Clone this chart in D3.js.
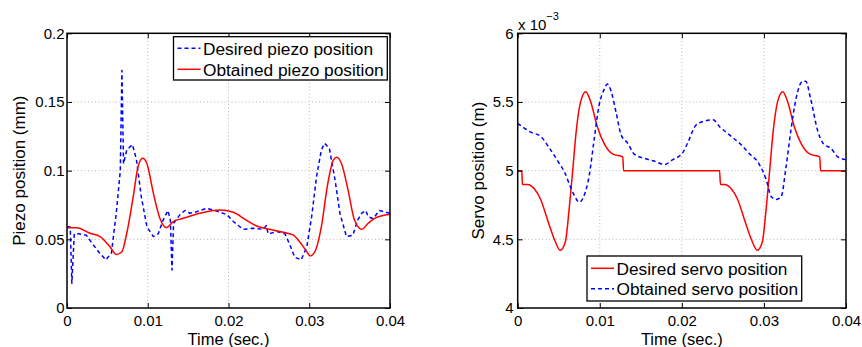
<!DOCTYPE html>
<html><head><meta charset="utf-8">
<script src="https://cdn.jsdelivr.net/npm/d3@7"></script>
<style>
body{margin:0;background:#fff;}
text{font-family:"Liberation Sans",Arial,Helvetica,sans-serif;fill:#000;}
</style></head>
<body><svg id="c" width="862" height="347"></svg>
<script>
// ---- Data ----
const timeTicks = [0, 0.01, 0.02, 0.03, 0.04];
const timeTickLabels = ["0", "0.01", "0.02", "0.03", "0.04"];
const piezoTicks = [0, 0.05, 0.1, 0.15, 0.2];
const piezoTickLabels = ["0", "0.05", "0.1", "0.15", "0.2"];
const servoTicks = [4, 4.5, 5, 5.5, 6];
const servoTickLabels = ["4", "4.5", "5", "5.5", "6"];

// Left: desired piezo position (mm)
const desiredPiezo = [
[0,0.0592],[0.0004,0.059],[0.0006,0.018],[0.0009,0.054],[0.0014,0.054],[0.0024,0.053],
[0.003,0.048],[0.0039,0.041],[0.0048,0.035],[0.0055,0.040],[0.0061,0.069],[0.0066,0.100],
[0.0068,0.173],[0.007,0.105],[0.0074,0.115],[0.0081,0.119],[0.0086,0.108],[0.0092,0.081],
[0.0099,0.059],[0.0107,0.052],[0.0113,0.054],[0.0119,0.064],[0.0125,0.071],[0.0128,0.064],
[0.013,0.0277],[0.0132,0.0617],[0.014,0.068],[0.0146,0.071],[0.0152,0.069],[0.016,0.070],
[0.0173,0.0726],[0.0183,0.071],[0.0198,0.068],[0.0206,0.063],[0.0218,0.0573],[0.0231,0.058],
[0.0243,0.0573],[0.0247,0.060],[0.0249,0.054],[0.026,0.0556],[0.027,0.054],[0.0276,0.046],
[0.0282,0.037],[0.029,0.035],[0.0297,0.0447],[0.0303,0.0665],[0.0309,0.0956],[0.0315,0.115],
[0.0319,0.120],[0.0325,0.116],[0.0332,0.093],[0.0338,0.069],[0.0346,0.052],[0.0354,0.053],
[0.036,0.064],[0.0365,0.069],[0.037,0.071],[0.0373,0.0665],[0.0379,0.065],[0.0387,0.071],
[0.04,0.069]];
// Left: obtained piezo position (mm)
const obtainedPiezo = [
[0,0.0585],[0.0012,0.0585],[0.00285,0.0544],[0.0041,0.052],[0.0053,0.0447],[0.0061,0.039],
[0.0068,0.041],[0.0074,0.0544],[0.0082,0.081],[0.0088,0.103],[0.00936,0.109],[0.0099,0.105],
[0.0107,0.0835],[0.0115,0.0653],[0.0123,0.0585],[0.0132,0.063],[0.0144,0.0653],[0.01645,0.069],
[0.0189,0.0714],[0.0206,0.0697],[0.0222,0.064],[0.0235,0.0597],[0.0255,0.0568],[0.0268,0.0551],
[0.028,0.0532],[0.0288,0.0483],[0.0297,0.041],[0.0301,0.0379],[0.0307,0.041],[0.0315,0.0592],
[0.0323,0.0908],[0.033,0.1078],[0.0334,0.1097],[0.034,0.105],[0.0348,0.086],[0.0356,0.064],
[0.0365,0.0573],[0.0373,0.0617],[0.0381,0.0653],[0.04,0.0682]];

// Right: desired servo position (x 1e-3 m)
const desiredServo = [
[0,5.0],[0.0005,5.0],[0.00057,4.90],[0.0012,4.90],[0.002,4.87],[0.0028,4.79],[0.0037,4.63],
[0.0045,4.495],[0.0052,4.42],[0.0058,4.48],[0.0063,4.74],[0.0067,5.0],[0.0071,5.27],
[0.0077,5.51],[0.0083,5.575],[0.0089,5.50],[0.0097,5.32],[0.0106,5.19],[0.0116,5.12],
[0.0128,5.10],[0.0129,5.0],[0.0246,5.0],[0.0247,4.90],[0.0252,4.90],[0.026,4.87],[0.0268,4.79],
[0.0277,4.63],[0.0285,4.495],[0.0292,4.42],[0.0298,4.48],[0.0303,4.74],[0.0307,5.0],
[0.0311,5.27],[0.0317,5.51],[0.0323,5.575],[0.0329,5.50],[0.0337,5.32],[0.0346,5.19],
[0.0356,5.12],[0.0368,5.10],[0.0369,5.0],[0.04,5.0]];
// Right: obtained servo position (x 1e-3 m)
const obtainedServo = [
[0,5.345],[0.0008,5.31],[0.0016,5.28],[0.0028,5.25],[0.0039,5.16],[0.0051,5.05],[0.0057,4.99],
[0.0065,4.87],[0.0069,4.82],[0.0075,4.77],[0.0081,4.82],[0.0087,4.96],[0.0093,5.22],
[0.0099,5.47],[0.0106,5.60],[0.0109,5.63],[0.0114,5.575],[0.012,5.42],[0.0126,5.26],
[0.0134,5.20],[0.0142,5.12],[0.0154,5.09],[0.0166,5.07],[0.0179,5.045],[0.0189,5.08],
[0.0201,5.13],[0.0207,5.20],[0.0217,5.33],[0.0227,5.36],[0.0238,5.37],[0.0246,5.32],
[0.0258,5.26],[0.0272,5.19],[0.0282,5.125],[0.0294,5.05],[0.0303,4.93],[0.0309,4.81],
[0.0315,4.79],[0.0321,4.81],[0.0327,5.03],[0.0333,5.30],[0.0339,5.52],[0.0347,5.65],
[0.0351,5.65],[0.0357,5.52],[0.0366,5.28],[0.0372,5.20],[0.0382,5.16],[0.039,5.10],
[0.04,5.08]];

const svg = d3.select("#c");

function panel(o){
  const g = svg.append("g");
  const x = d3.scaleLinear().domain([0,0.04]).range([o.x0,o.x1]);
  const y = d3.scaleLinear().domain(o.yDomain).range([o.y0,o.y1]);
  // grid
  const grid = g.append("g").attr("stroke","#b8b8b8").attr("stroke-width",1).attr("stroke-dasharray","1,2.5");
  timeTicks.slice(1,-1).forEach(t=>grid.append("line").attr("x1",x(t)).attr("x2",x(t)).attr("y1",o.y0).attr("y2",o.y1));
  o.yTicks.slice(1,-1).forEach(v=>grid.append("line").attr("x1",o.x0).attr("x2",o.x1).attr("y1",y(v)).attr("y2",y(v)));
  // series
  const clip = "clip"+o.id;
  svg.append("clipPath").attr("id",clip).append("rect").attr("x",o.x0).attr("y",o.y1).attr("width",o.x1-o.x0).attr("height",o.y0-o.y1);
  o.series.forEach(s=>{
    g.append("path").datum(s.data).attr("clip-path","url(#"+clip+")")
      .attr("fill","none").attr("stroke",s.color).attr("stroke-width",1.5)
      .attr("stroke-dasharray",s.dash?"4,3":null).attr("stroke-linejoin","round")
      .attr("d",d3.line().x(d=>x(d[0])).y(d=>y(d[1])).curve(s.smooth?d3.curveMonotoneX:d3.curveLinear));
  });
  // axes (inside ticks on all sides)
  const tl = 5;
  const ax = g.append("g");
  ax.append("g").attr("transform",`translate(0,${o.y0})`)
    .call(d3.axisBottom(x).tickValues(timeTicks).tickSizeInner(-tl).tickSizeOuter(0).tickPadding(7.5).tickFormat((d,i)=>timeTickLabels[i]));
  ax.append("g").attr("transform",`translate(0,${o.y1})`)
    .call(d3.axisTop(x).tickValues(timeTicks).tickSizeInner(-tl).tickSizeOuter(0).tickFormat(""));
  ax.append("g").attr("transform",`translate(${o.x0},0)`)
    .call(d3.axisLeft(y).tickValues(o.yTicks).tickSizeInner(-tl).tickSizeOuter(0).tickPadding(o.yPad).tickFormat((d,i)=>o.yLabels[i]));
  ax.append("g").attr("transform",`translate(${o.x1},0)`)
    .call(d3.axisRight(y).tickValues(o.yTicks).tickSizeInner(-tl).tickSizeOuter(0).tickFormat(""));
  ax.selectAll(".domain").remove();
  ax.selectAll(".tick line").attr("stroke","#000").attr("stroke-width",1);
  ax.selectAll(".tick text").attr("font-size",15).attr("font-family","Liberation Sans, Arial, sans-serif").attr("fill","#000");
  g.append("rect").attr("x",o.x0).attr("y",o.y1).attr("width",o.x1-o.x0).attr("height",o.y0-o.y1)
    .attr("fill","none").attr("stroke","#000").attr("stroke-width",1.5);
  // labels
  g.append("text").attr("x",(o.x0+o.x1)/2).attr("y",344.5).attr("text-anchor","middle").attr("font-size",16.5).text("Time (sec.)");
  g.append("text").attr("transform",`translate(${o.ylabX},${(o.y0+o.y1)/2}) rotate(-90)`).attr("text-anchor","middle").attr("font-size",17).text(o.yLabel);
  // legend
  const L = o.legend;
  g.append("rect").attr("x",L.x).attr("y",L.y).attr("width",L.w).attr("height",L.h).attr("fill","#fff").attr("stroke","#000").attr("stroke-width",1.3);
  L.items.forEach((it,i)=>{
    const cy = L.y + L.rowY[i];
    g.append("line").attr("x1",L.x+4).attr("x2",L.x+27).attr("y1",cy).attr("y2",cy)
      .attr("stroke",it.color).attr("stroke-width",1.5).attr("stroke-dasharray",it.dash?"4,3":null);
    g.append("text").attr("x",L.x+29.5).attr("y",cy).attr("dy","0.36em").attr("font-size",17.3).text(it.label);
  });
}

panel({id:"L", x0:67, x1:390, y0:308, y1:33.3, yDomain:[0,0.2], yTicks:piezoTicks, yLabels:piezoTickLabels, yPad:2.5,
  ylabX:25, yLabel:"Piezo position (mm)",
  series:[{data:desiredPiezo,color:"#0000ff",dash:true,smooth:false},{data:obtainedPiezo,color:"#ff0000",dash:false,smooth:true}],
  legend:{x:173.5,y:36.7,w:213.8,h:43.3,rowY:[11.6,32.6],items:[{label:"Desired piezo position",color:"#0000ff",dash:true},{label:"Obtained piezo position",color:"#ff0000",dash:false}]}
});
panel({id:"R", x0:517.7, x1:846, y0:308, y1:33.3, yDomain:[4,6], yTicks:servoTicks, yLabels:servoTickLabels, yPad:4,
  ylabX:484, yLabel:"Servo position (m)",
  series:[{data:desiredServo,color:"#ff0000",dash:false,smooth:true},{data:obtainedServo,color:"#0000ff",dash:true,smooth:true}],
  legend:{x:587,y:256,w:214.7,h:45,rowY:[12.3,32.7],items:[{label:"Desired servo position",color:"#ff0000",dash:false},{label:"Obtained servo position",color:"#0000ff",dash:true}]}
});
// exponent label
const ex = svg.append("text").attr("x",518).attr("y",29.5).attr("font-size",15);
ex.append("tspan").text("x 10");
ex.append("tspan").attr("dy",-10).attr("font-size",11).text("\u22123");
</script></body></html>
